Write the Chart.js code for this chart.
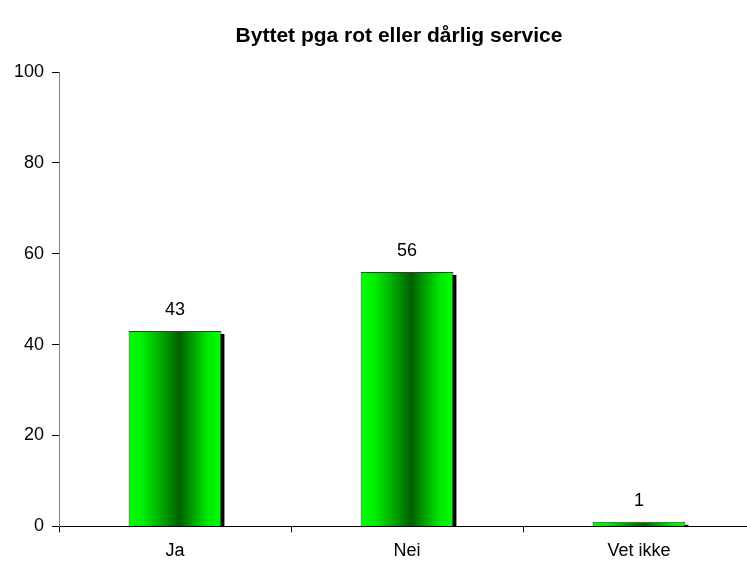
<!DOCTYPE html>
<html>
<head>
<meta charset="utf-8">
<script src="https://cdn.jsdelivr.net/npm/chart.js@4/dist/chart.umd.min.js"></script>
<style>
  html, body { margin: 0; padding: 0; background: #fff; overflow: hidden; }
  #wrap { position: relative; width: 798px; height: 562px; overflow: hidden; }
  #title {
    position: absolute; left: 0; top: 22px; width: 798px;
    text-align: center; font: bold 21px Arial, "Liberation Sans", sans-serif;
    color: #000; line-height: 26px;
  }
</style>
</head>
<body>
<div id="wrap">
  <div id="title">Byttet pga rot eller dårlig service</div>
  <canvas id="chart" width="798" height="570"></canvas>
</div>
<script>
const categories = ["Ja", "Nei", "Vet ikke"];
const answers = [43, 56, 1];
const yTicks = [0, 20, 40, 60, 80, 100];

const BAR_FRACTION = 0.4;
const FONT = "Arial, 'Liberation Sans', sans-serif";

// horizontal light-dark-light green fill, one gradient per bar
function barGradient(ctx) {
  const chart = ctx.chart;
  const xScale = chart.scales.x;
  if (!chart.chartArea || !xScale || ctx.dataIndex === undefined) {
    return "#00ff00";
  }
  const cx = xScale.getPixelForValue(ctx.dataIndex);
  const half = (xScale.width / categories.length) * BAR_FRACTION / 2;
  const g = chart.ctx.createLinearGradient(cx - half, 0, cx + half, 0);
  g.addColorStop(0, "#00ff00");
  g.addColorStop(0.15, "#00f000");
  g.addColorStop(0.55, "#006000");
  g.addColorStop(0.85, "#00e800");
  g.addColorStop(1, "#00ff00");
  return g;
}

// black block offset behind each bar, taken from the bar elements
const dropShadow = {
  id: "dropShadow",
  beforeDatasetDraw(chart) {
    const c = chart.ctx;
    const meta = chart.getDatasetMeta(0);
    c.save();
    c.fillStyle = "#000";
    meta.data.forEach((bar) => {
      const left = bar.x - bar.width / 2;
      const top = Math.min(bar.y, bar.base);
      const bottom = Math.max(bar.y, bar.base);
      c.fillRect(left + 3, top + 3, bar.width, bottom - top - 2);
    });
    c.restore();
  },
};

const valueLabels = {
  id: "valueLabels",
  afterDatasetsDraw(chart) {
    const c = chart.ctx;
    const meta = chart.getDatasetMeta(0);
    c.save();
    c.font = "18px " + FONT;
    c.fillStyle = "#000";
    c.textAlign = "center";
    c.textBaseline = "alphabetic";
    meta.data.forEach((bar, i) => {
      c.fillText(String(answers[i]), bar.x, bar.y - 16);
    });
    c.restore();
  },
};

new Chart(document.getElementById("chart"), {
  type: "bar",
  data: {
    labels: categories,
    datasets: [{
      data: answers,
      backgroundColor: barGradient,
      borderColor: "#383838",
      borderWidth: 1,
      categoryPercentage: 1,
      barPercentage: BAR_FRACTION,
    }],
  },
  options: {
    responsive: false,
    animation: false,
    layout: { padding: { left: 6, right: 43, top: 72, bottom: 0 } },
    plugins: {
      legend: { display: false },
      tooltip: { enabled: false },
      title: { display: false },
    },
    scales: {
      x: {
        grid: {
          offset: true,
          drawOnChartArea: false,
          drawTicks: true,
          tickLength: 6,
          color: "#000",
        },
        border: { color: "#000", width: 1 },
        ticks: {
          color: "#000",
          padding: 8,
          font: { family: FONT, size: 18 },
        },
      },
      y: {
        min: 0,
        max: 100,
        afterBuildTicks(axis) {
          axis.ticks = yTicks.map((v) => ({ value: v }));
        },
        grid: {
          drawOnChartArea: false,
          drawTicks: true,
          tickLength: 7,
          color: "#000",
        },
        border: { color: "#808080", width: 1 },
        ticks: {
          color: "#000",
          padding: 8,
          font: { family: FONT, size: 18 },
        },
      },
    },
  },
  plugins: [dropShadow, valueLabels],
});
</script>
</body>
</html>
